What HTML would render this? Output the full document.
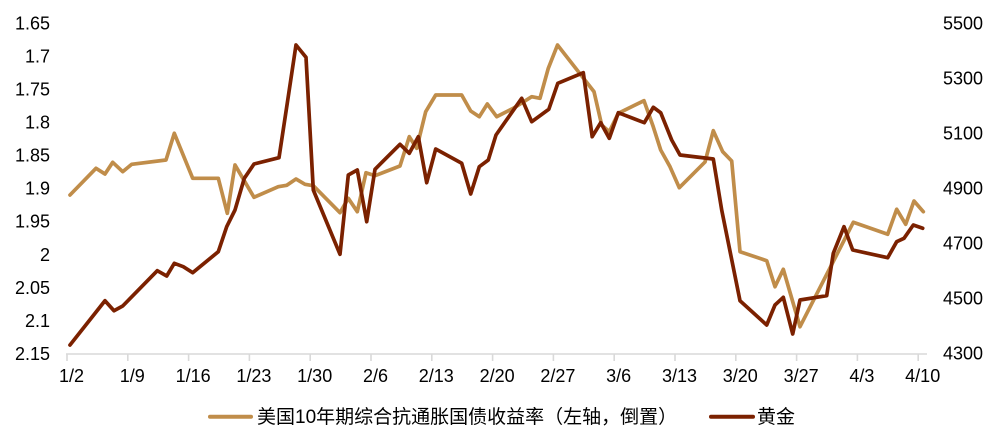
<!DOCTYPE html>
<html>
<head>
<meta charset="utf-8">
<style>
  html, body { margin: 0; padding: 0; background: #ffffff; }
  svg { display: block; }
  text { font-family: "Liberation Sans", "Noto Sans CJK SC", sans-serif; fill: #000; }
</style>
</head>
<body>
<svg width="998" height="446" viewBox="0 0 998 446" xmlns="http://www.w3.org/2000/svg">
  <!-- left axis labels (inverted) -->
  <g font-size="18" text-anchor="end">
    <text x="50" y="29.3">1.65</text>
    <text x="50" y="62.4">1.7</text>
    <text x="50" y="95.5">1.75</text>
    <text x="50" y="128.5">1.8</text>
    <text x="50" y="161.6">1.85</text>
    <text x="50" y="194.7">1.9</text>
    <text x="50" y="227.7">1.95</text>
    <text x="50" y="260.8">2</text>
    <text x="50" y="293.9">2.05</text>
    <text x="50" y="326.9">2.1</text>
    <text x="50" y="360">2.15</text>
  </g>
  <!-- right axis labels -->
  <g font-size="18" text-anchor="start">
    <text x="943" y="29.3">5500</text>
    <text x="943" y="84.3">5300</text>
    <text x="943" y="139.3">5100</text>
    <text x="943" y="194.3">4900</text>
    <text x="943" y="249.3">4700</text>
    <text x="943" y="304.3">4500</text>
    <text x="943" y="359.3">4300</text>
  </g>
  <!-- x axis -->
  <line x1="66" y1="354" x2="927" y2="354" stroke="#d9d9d9" stroke-width="1.6"/>
  <g stroke="#d9d9d9" stroke-width="1.6">
    <line x1="67" y1="354" x2="67" y2="361"/>
    <line x1="127.8" y1="354" x2="127.8" y2="361"/>
    <line x1="188.6" y1="354" x2="188.6" y2="361"/>
    <line x1="249.4" y1="354" x2="249.4" y2="361"/>
    <line x1="310.2" y1="354" x2="310.2" y2="361"/>
    <line x1="371" y1="354" x2="371" y2="361"/>
    <line x1="431.8" y1="354" x2="431.8" y2="361"/>
    <line x1="492.6" y1="354" x2="492.6" y2="361"/>
    <line x1="553.4" y1="354" x2="553.4" y2="361"/>
    <line x1="614.2" y1="354" x2="614.2" y2="361"/>
    <line x1="675" y1="354" x2="675" y2="361"/>
    <line x1="735.8" y1="354" x2="735.8" y2="361"/>
    <line x1="796.6" y1="354" x2="796.6" y2="361"/>
    <line x1="857.4" y1="354" x2="857.4" y2="361"/>
    <line x1="918.2" y1="354" x2="918.2" y2="361"/>
  </g>
  <g font-size="18" text-anchor="middle">
    <text x="71.5" y="382">1/2</text>
    <text x="132.3" y="382">1/9</text>
    <text x="193.1" y="382">1/16</text>
    <text x="253.9" y="382">1/23</text>
    <text x="314.7" y="382">1/30</text>
    <text x="375.5" y="382">2/6</text>
    <text x="436.3" y="382">2/13</text>
    <text x="497.1" y="382">2/20</text>
    <text x="557.9" y="382">2/27</text>
    <text x="618.7" y="382">3/6</text>
    <text x="679.5" y="382">3/13</text>
    <text x="740.3" y="382">3/20</text>
    <text x="801.1" y="382">3/27</text>
    <text x="861.9" y="382">4/3</text>
    <text x="922.7" y="382">4/10</text>
  </g>

  <!-- TIPS yield (left axis, inverted) -->
  <polyline fill="none" stroke="#C08D4A" stroke-width="3.7" stroke-linejoin="round" stroke-linecap="round"
    points="70,195 96,168.3 105,174 112.7,162.3 122.7,171.7 131.7,164.3 166,160 174.3,133.3 192.7,178.3 218.3,178.3 227.3,213.3 235,165 254,197.3 278.3,186.7 286.7,185.3 296,179 305,184.3 313.3,185.7 340,212.7 348.3,198.3 357.3,211.7 366,172.7 375,175.7 400,166 409.3,136.7 416.7,148.3 425.7,111.7 435.7,95 461.7,95 470.7,111 479.3,116.7 487.3,104 496.7,116.7 513.3,108.3 531.7,96.7 540,98.3 548.3,68.3 557.5,45 579,72.5 594,91.7 601.7,125 609.3,131.7 618.3,113.3 644,100.7 653,126 660.7,150 670,166.7 679.3,187.7 705,162 713.3,130.7 722.7,151.7 731.7,161 740,251.7 766.7,260.7 775,286.7 783.3,269.3 800,326.7 853.3,222.3 887.7,234.3 896.7,209.3 905.7,224.3 914,201 923.3,211.7"/>

  <!-- Gold price (right axis) -->
  <polyline fill="none" stroke="#7B2100" stroke-width="3.7" stroke-linejoin="round" stroke-linecap="round"
    points="70,345 105,300.7 114,310.7 122.7,306 157.3,270.7 166.7,276 174.3,263.3 183.3,266.7 192.7,272.7 218.3,251.7 226.7,226.7 235,210 244.3,178.3 254,164 279,157.7 287.3,103 296,45 306,57.3 313.3,190 340,254.3 348.3,175 357.3,170 366.7,221.7 375,169.3 400,144.3 409.3,153.3 418.3,136.7 426.7,182.7 435.7,149 461.7,163.3 470.7,194 479.3,166.7 488.3,160 496,135 521.7,98.3 531.7,121.7 548.8,109.3 557.8,83.3 583.3,72.7 592.2,136.7 600.7,122.7 609.3,138.3 618.3,112.7 644.3,122.7 653.3,107.3 660.7,112.7 671.7,140 680,155 713.3,159 721.7,210 740,300.7 766.7,325 775,305 783.3,297.3 792.7,334 800,300 826.7,295.7 833.3,253.3 844,226.7 852.7,250 887.7,257.7 896.7,241.7 904,238.3 913.3,225 922.7,228.3"/>

  <!-- legend -->
  <line x1="210" y1="416.7" x2="251" y2="416.7" stroke="#C08D4A" stroke-width="4" stroke-linecap="round"/>
  <text x="257" y="423" font-size="19">美国10年期综合抗通胀国债收益率（左轴，倒置）</text>
  <line x1="711" y1="416.7" x2="753" y2="416.7" stroke="#7B2100" stroke-width="4" stroke-linecap="round"/>
  <text x="757" y="423" font-size="19">黄金</text>
</svg>
</body>
</html>
